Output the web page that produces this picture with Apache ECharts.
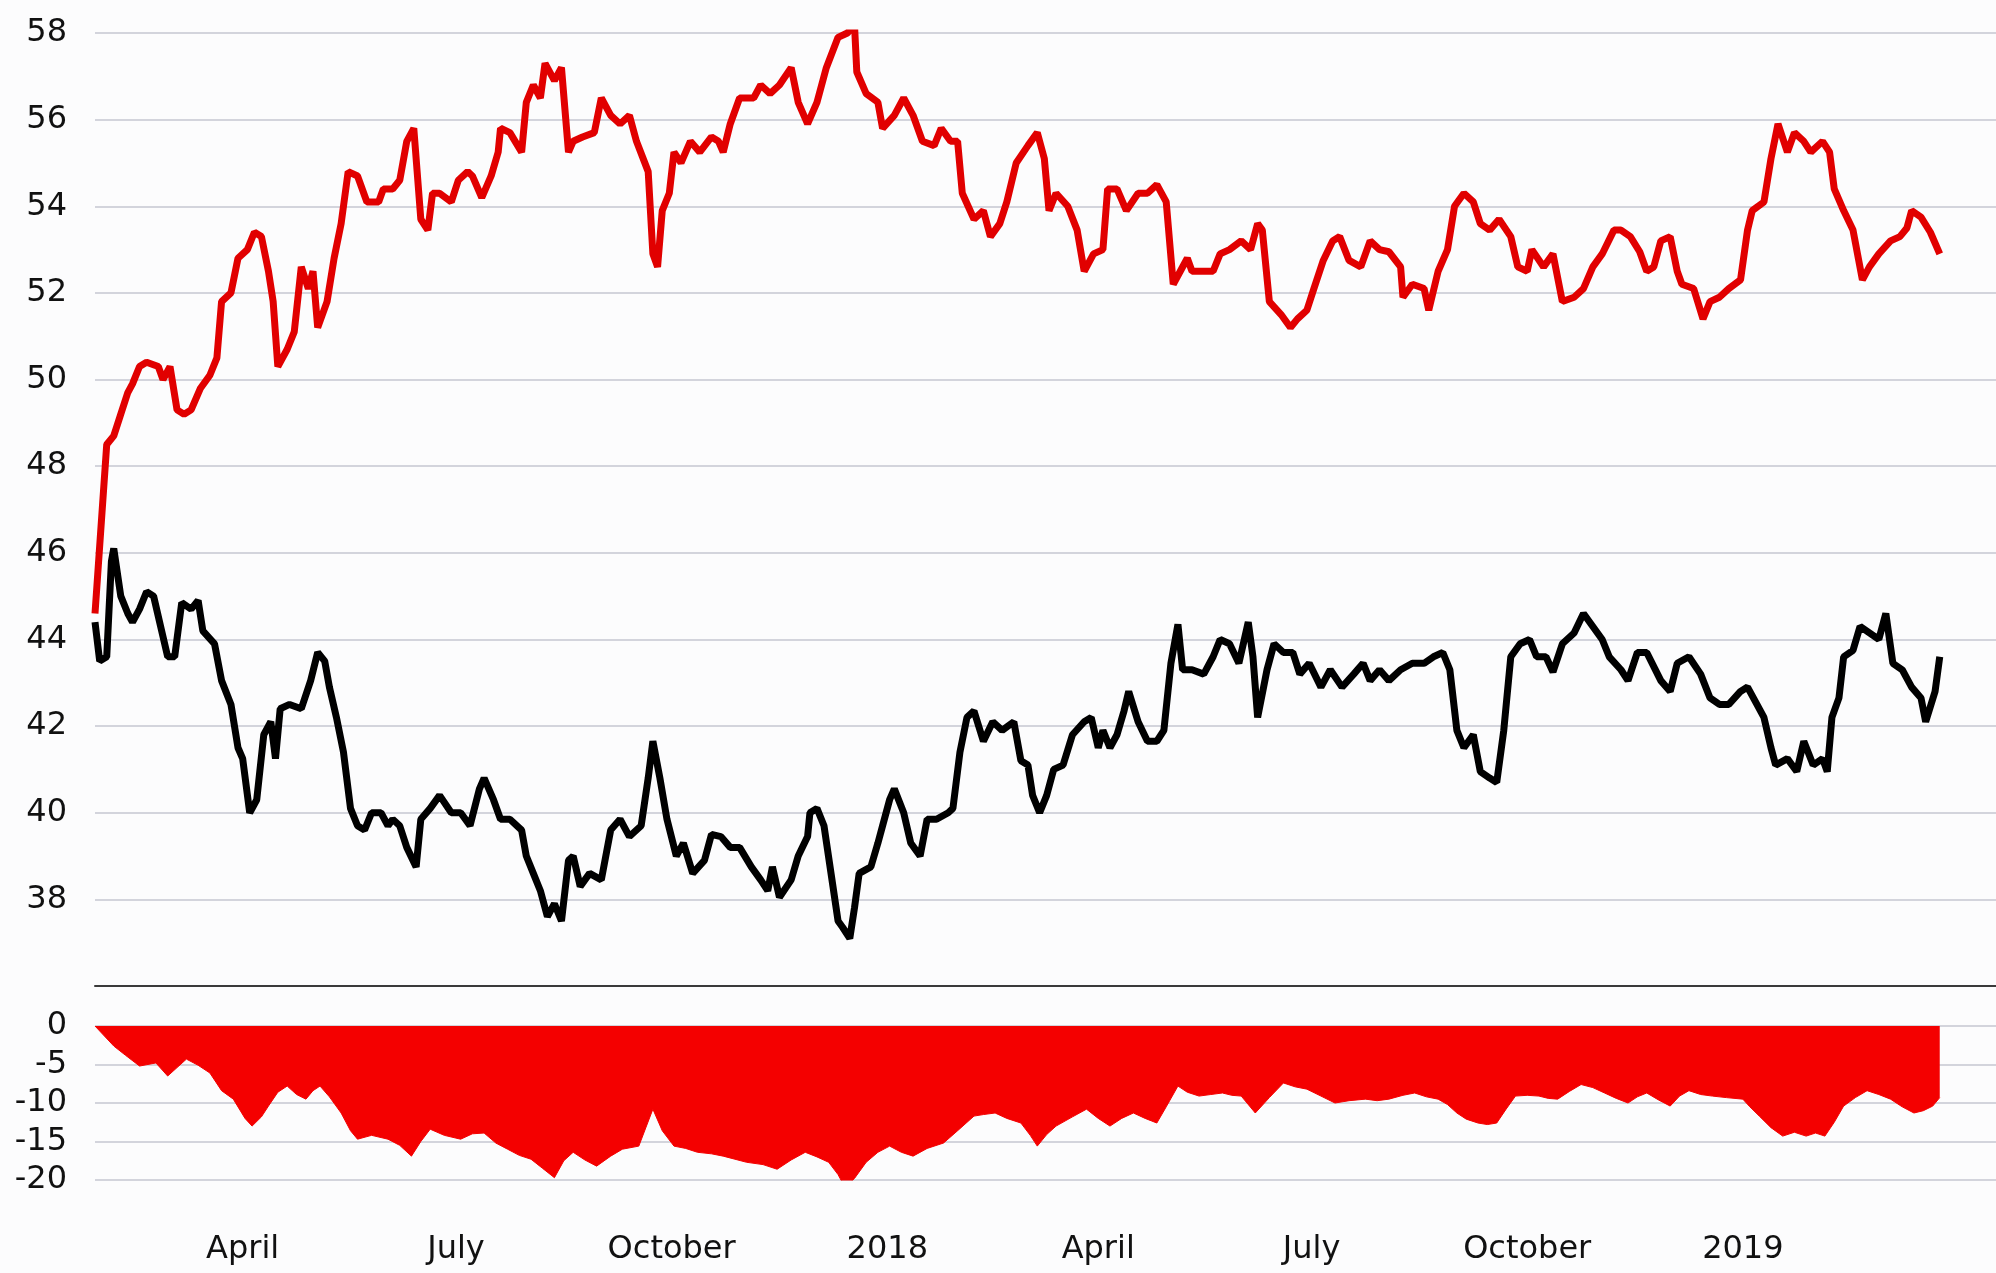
<!DOCTYPE html>
<html>
<head>
<meta charset="utf-8">
<script src="https://cdn.jsdelivr.net/npm/echarts@6/dist/echarts.min.js"></script>
<style>
html,body{margin:0;padding:0;background:#fcfcfd;}
#chart{width:1996px;height:1273px;}
</style>
</head>
<body>
<div id="chart"></div>
<script>
// x values: days since 2018-01-01
const redSeries = [[-338,44.6],[-333,48.5],[-330,48.7],[-327,49.2],[-324,49.7],[-322,49.9],[-319,50.3],[-316,50.4],[-311,50.3],[-309,50.0],[-306,50.3],[-303,49.3],[-300,49.2],[-297,49.3],[-293,49.8],[-289,50.1],[-286,50.5],[-284,51.8],[-280,52.0],[-277,52.8],[-273,53.0],[-270,53.4],[-267,53.3],[-264,52.5],[-262,51.8],[-260,50.3],[-256,50.7],[-253,51.1],[-250,52.6],[-247,52.1],[-245,52.5],[-243,51.2],[-239,51.8],[-236,52.8],[-233,53.6],[-230,54.8],[-226,54.7],[-222,54.1],[-217,54.1],[-215,54.4],[-211,54.4],[-208,54.6],[-205,55.5],[-202,55.8],[-199,53.7],[-196,53.45],[-194,54.3],[-191,54.3],[-186,54.1],[-183,54.6],[-179,54.8],[-177,54.7],[-173,54.2],[-169,54.7],[-166,55.25],[-165,55.8],[-161,55.7],[-156,55.25],[-154,56.4],[-151,56.8],[-148,56.5],[-146,57.3],[-142,56.9],[-139,57.2],[-136,55.25],[-134,55.5],[-130,55.6],[-125,55.7],[-122,56.5],[-118,56.1],[-114,55.9],[-110,56.1],[-107,55.5],[-102,54.8],[-100,52.9],[-98,52.6],[-96,53.9],[-93,54.3],[-91,55.25],[-88,55.0],[-84,55.5],[-80,55.25],[-75,55.6],[-72,55.5],[-70,55.25],[-67,55.9],[-63,56.5],[-57,56.5],[-54,56.8],[-50,56.6],[-46,56.8],[-41,57.2],[-38,56.4],[-34,55.9],[-30,56.4],[-26,57.2],[-21,57.9],[-17,58.0],[-14,58.2],[-13,57.1],[-9,56.6],[-4,56.4],[-2,55.8],[3,56.1],[7,56.5],[11,56.1],[15,55.5],[20,55.4],[23,55.8],[27,55.5],[30,55.5],[32,54.3],[37,53.7],[41,53.9],[44,53.3],[48,53.6],[51,54.1],[55,55.0],[60,55.4],[64,55.7],[67,55.1],[69,53.9],[72,54.3],[77,54.0],[81,53.45],[84,52.5],[88,52.9],[92,53.0],[94,54.4],[98,54.4],[102,53.9],[107,54.3],[111,54.3],[115,54.5],[119,54.1],[122,52.2],[125,52.5],[128,52.8],[130,52.5],[135,52.5],[139,52.5],[142,52.9],[146,53.0],[151,53.2],[155,53.0],[158,53.6],[160,53.45],[163,51.8],[168,51.5],[172,51.2],[175,51.4],[179,51.6],[182,52.1],[186,52.75],[190,53.2],[193,53.3],[197,52.75],[202,52.6],[206,53.2],[210,53.0],[214,52.95],[219,52.6],[220,51.9],[224,52.2],[229,52.1],[231,51.6],[235,52.5],[239,53.0],[242,54.0],[246,54.3],[250,54.1],[253,53.6],[257,53.45],[261,53.7],[266,53.3],[269,52.6],[273,52.5],[275,53.0],[280,52.6],[284,52.9],[288,51.8],[293,51.9],[297,52.1],[301,52.6],[305,52.9],[310,53.45],[313,53.45],[317,53.3],[321,52.95],[324,52.5],[327,52.6],[330,53.2],[334,53.3],[337,52.5],[339,52.2],[344,52.1],[348,51.4],[351,51.8],[355,51.9],[359,52.1],[364,52.3],[367,53.45],[369,53.9],[374,54.1],[377,55.1],[380,55.9],[384,55.25],[387,55.7],[391,55.5],[394,55.25],[399,55.5],[402,55.25],[404,54.4],[408,53.9],[412,53.45],[416,52.3],[419,52.6],[423,52.9],[428,53.2],[432,53.3],[435,53.5],[437,53.9],[441,53.75],[445,53.4],[449,52.9]];

const blackSeries = [[-338,44.4],[-336,43.5],[-333,43.6],[-331,45.8],[-330,46.1],[-327,45.0],[-324,44.6],[-322,44.4],[-319,44.7],[-316,45.1],[-313,45.0],[-310,44.3],[-307,43.6],[-304,43.6],[-301,44.85],[-297,44.7],[-294,44.9],[-292,44.2],[-287,43.9],[-284,43.05],[-280,42.5],[-277,41.5],[-275,41.25],[-272,40.0],[-269,40.3],[-266,41.8],[-263,42.1],[-261,41.25],[-259,42.4],[-255,42.5],[-250,42.4],[-246,43.05],[-243,43.7],[-240,43.5],[-238,42.9],[-235,42.2],[-232,41.4],[-229,40.1],[-226,39.7],[-223,39.6],[-220,40.0],[-216,40.0],[-213,39.7],[-211,39.85],[-208,39.7],[-205,39.2],[-201,38.75],[-199,39.85],[-195,40.1],[-191,40.4],[-186,40.0],[-182,40.0],[-178,39.7],[-174,40.55],[-172,40.8],[-168,40.3],[-165,39.85],[-161,39.85],[-156,39.6],[-154,39.0],[-151,38.6],[-148,38.2],[-145,37.6],[-142,37.9],[-139,37.5],[-136,38.9],[-134,39.0],[-131,38.3],[-127,38.6],[-122,38.45],[-118,39.6],[-114,39.85],[-110,39.45],[-105,39.7],[-102,40.8],[-100,41.65],[-97,40.8],[-94,39.85],[-90,39.0],[-87,39.3],[-83,38.6],[-78,38.9],[-75,39.5],[-71,39.45],[-67,39.2],[-63,39.2],[-58,38.75],[-54,38.45],[-51,38.2],[-49,38.75],[-46,38.05],[-41,38.45],[-38,39.0],[-34,39.45],[-33,40.0],[-30,40.1],[-27,39.7],[-24,38.6],[-21,37.5],[-19,37.35],[-16,37.1],[-14,37.8],[-12,38.6],[-7,38.75],[-4,39.3],[-2,39.7],[1,40.3],[3,40.55],[7,40.0],[10,39.3],[14,39.0],[17,39.85],[21,39.85],[26,40.0],[28,40.1],[31,41.4],[34,42.2],[37,42.35],[41,41.65],[45,42.1],[49,41.9],[54,42.1],[57,41.2],[60,41.1],[62,40.4],[65,40.0],[68,40.4],[71,41.0],[75,41.1],[79,41.8],[84,42.1],[87,42.2],[90,41.5],[92,41.9],[95,41.5],[98,41.8],[101,42.35],[103,42.8],[107,42.1],[111,41.65],[115,41.65],[118,41.9],[121,43.45],[124,44.35],[126,43.3],[130,43.3],[135,43.2],[139,43.6],[142,44.0],[146,43.9],[150,43.45],[154,44.4],[156,43.6],[158,42.2],[162,43.3],[165,43.9],[169,43.7],[173,43.7],[176,43.2],[180,43.45],[185,42.9],[189,43.3],[194,42.9],[199,43.2],[203,43.45],[206,43.05],[210,43.3],[214,43.05],[219,43.3],[224,43.45],[229,43.45],[233,43.6],[237,43.7],[240,43.3],[243,41.9],[246,41.5],[250,41.8],[253,40.95],[257,40.8],[260,40.7],[263,41.9],[266,43.6],[270,43.9],[274,44.0],[277,43.6],[281,43.6],[284,43.25],[288,43.9],[293,44.15],[297,44.6],[301,44.3],[305,44.0],[308,43.6],[313,43.3],[316,43.05],[320,43.7],[324,43.7],[330,43.05],[334,42.8],[337,43.45],[342,43.6],[347,43.2],[351,42.65],[355,42.5],[359,42.5],[364,42.8],[367,42.9],[371,42.5],[374,42.2],[377,41.5],[379,41.1],[384,41.25],[388,40.95],[391,41.65],[395,41.1],[399,41.25],[401,40.95],[403,42.2],[406,42.65],[408,43.6],[412,43.75],[415,44.3],[419,44.15],[423,44.0],[426,44.6],[429,43.45],[433,43.3],[437,42.9],[441,42.65],[443,42.1],[447,42.8],[449,43.6]];

const spreadSeries = [[-338,0],[-330,-2.6],[-325,-3.8],[-319,-5.2],[-312,-4.8],[-307,-6.5],[-299,-4.3],[-294,-5.1],[-289,-6.1],[-284,-8.4],[-279,-9.5],[-274,-12.0],[-271,-13.0],[-267,-11.8],[-264,-10.4],[-260,-8.6],[-256,-7.8],[-252,-8.9],[-248,-9.5],[-245,-8.4],[-242,-7.8],[-238,-9.2],[-233,-11.3],[-229,-13.6],[-226,-14.7],[-220,-14.2],[-213,-14.7],[-208,-15.5],[-203,-16.9],[-199,-15.0],[-195,-13.4],[-189,-14.2],[-182,-14.7],[-177,-14.0],[-172,-13.9],[-167,-15.2],[-162,-16.0],[-157,-16.8],[-152,-17.3],[-147,-18.5],[-142,-19.7],[-138,-17.5],[-134,-16.4],[-129,-17.4],[-124,-18.2],[-118,-16.9],[-113,-16.0],[-106,-15.6],[-100,-10.8],[-96,-13.6],[-91,-15.6],[-86,-15.9],[-81,-16.4],[-75,-16.6],[-70,-16.9],[-65,-17.3],[-60,-17.7],[-53,-18.0],[-47,-18.6],[-41,-17.4],[-35,-16.4],[-30,-17.0],[-25,-17.7],[-21,-19.3],[-18,-21.0],[-14,-19.8],[-9,-17.7],[-4,-16.4],[1,-15.6],[6,-16.4],[11,-16.9],[17,-15.9],[24,-15.2],[30,-13.6],[37,-11.7],[41,-11.5],[46,-11.3],[51,-12.0],[57,-12.6],[61,-14.2],[64,-15.6],[68,-14.1],[72,-13.0],[79,-11.8],[85,-10.8],[90,-12.0],[95,-13.0],[100,-12.0],[105,-11.3],[110,-12.0],[115,-12.6],[119,-10.5],[124,-7.8],[128,-8.6],[133,-9.1],[138,-8.9],[143,-8.7],[147,-9.0],[151,-9.1],[157,-11.3],[163,-9.3],[169,-7.4],[174,-7.9],[179,-8.2],[185,-9.1],[191,-10.0],[197,-9.7],[204,-9.5],[209,-9.7],[214,-9.5],[220,-9.0],[225,-8.7],[230,-9.2],[235,-9.5],[239,-10.2],[243,-11.3],[247,-12.1],[252,-12.6],[256,-12.8],[260,-12.6],[264,-10.8],[268,-9.1],[273,-9.0],[278,-9.1],[282,-9.4],[286,-9.5],[291,-8.5],[296,-7.6],[301,-8.0],[306,-8.7],[311,-9.4],[316,-10.0],[320,-9.2],[324,-8.7],[329,-9.6],[334,-10.4],[338,-9.1],[342,-8.4],[347,-8.9],[352,-9.1],[358,-9.3],[365,-9.5],[368,-10.5],[372,-11.7],[377,-13.2],[382,-14.3],[387,-13.8],[392,-14.3],[396,-13.9],[400,-14.3],[404,-12.5],[408,-10.4],[413,-9.3],[418,-8.4],[423,-8.9],[428,-9.5],[433,-10.5],[438,-11.3],[442,-11.0],[446,-10.4],[449,-9.3]];

const upperTicks = {min: 36, max: 58, step: 2};
const lowerTicks = {min: -20, max: 0, step: 5};
const monthNames = ['January','February','March','April','May','June','July','August','September','October','November','December'];

const DAY = 86400000;
const BASE = new Date(2018, 0, 1).getTime();
const toTime = arr => arr.map(p => [BASE + p[0] * DAY, p[1]]);
const xMin = BASE - 338 * DAY;
const xMax = BASE + 473 * DAY;
const lastData = BASE + 449 * DAY;

const FONT = 'DejaVu Sans';
const gridLine = {lineStyle: {color: '#d3d4dc', width: 2}};

const chart = echarts.init(document.getElementById('chart'), null, {renderer: 'canvas'});
chart.setOption({
  animation: false,
  backgroundColor: '#fcfcfd',
  grid: [
    {left: 95, right: 0, top: 33, height: 953},
    {left: 95, right: 0, top: 1026, height: 154}
  ],
  xAxis: [
    {
      type: 'time', gridIndex: 0, min: xMin, max: xMax,
      axisLine: {show: true, lineStyle: {color: '#3a3a3a', width: 2}},
      axisTick: {show: false}, axisLabel: {show: false}, splitLine: {show: false}
    },
    {
      type: 'time', gridIndex: 1, min: xMin, max: xMax,
      splitNumber: 9, minInterval: 80 * DAY, maxInterval: 100 * DAY,
      axisLine: {show: false}, axisTick: {show: false}, splitLine: {show: false},
      axisLabel: {
        show: true, margin: 54, fontSize: 32, fontFamily: FONT, color: '#111111',
        showMinLabel: false, showMaxLabel: false,
        formatter: function (v) {
          const d = new Date(v);
          if (d.getDate() !== 1 || v > lastData) return '';
          if (d.getMonth() === 0) return String(d.getFullYear());
          return monthNames[d.getMonth()];
        }
      }
    }
  ],
  yAxis: [
    {
      type: 'value', gridIndex: 0, min: upperTicks.min, max: upperTicks.max, interval: upperTicks.step,
      axisLine: {show: false}, axisTick: {show: false},
      splitLine: gridLine,
      axisLabel: {
        fontSize: 32, fontFamily: FONT, color: '#111111', margin: 28,
        formatter: v => (v === upperTicks.min ? '' : String(v))
      }
    },
    {
      type: 'value', gridIndex: 1, min: lowerTicks.min, max: lowerTicks.max, interval: lowerTicks.step,
      axisLine: {show: false}, axisTick: {show: false},
      splitLine: gridLine,
      axisLabel: {fontSize: 32, fontFamily: FONT, color: '#111111', margin: 28}
    }
  ],
  series: [
    {
      name: 'black', type: 'line', xAxisIndex: 0, yAxisIndex: 0,
      data: toTime(blackSeries), showSymbol: false, symbol: 'none',
      lineStyle: {color: '#000000', width: 7}, z: 3
    },
    {
      name: 'red', type: 'line', xAxisIndex: 0, yAxisIndex: 0,
      data: toTime(redSeries), showSymbol: false, symbol: 'none',
      lineStyle: {color: '#e10000', width: 7}, z: 4
    },
    {
      name: 'spread', type: 'line', xAxisIndex: 1, yAxisIndex: 1,
      data: toTime(spreadSeries), showSymbol: false, symbol: 'none',
      lineStyle: {color: '#f40000', width: 1},
      areaStyle: {color: '#f40000', opacity: 1}, z: 3
    }
  ]
});
</script>
</body>
</html>
